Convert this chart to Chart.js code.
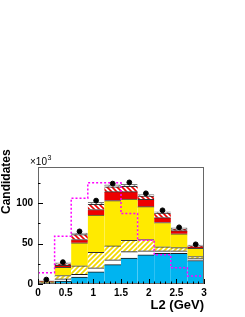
<!DOCTYPE html>
<html>
<head>
<meta charset="utf-8">
<script src="https://cdn.jsdelivr.net/npm/chart.js@4.4.1/dist/chart.umd.min.js"></script>
<style>
  body { margin: 0; background: #fff; }
  #wrap { width: 245px; height: 317px; }
</style>
</head>
<body>
<div id="wrap"><canvas id="c"></canvas></div>
<script>
// bin edges in GeV (10 bins of 0.3)
const binEdges = [0, 0.3, 0.6, 0.9, 1.2, 1.5, 1.8, 2.1, 2.4, 2.7, 3.0]

// stacked components, x10^3 candidates per bin (bottom to top)
const cyanPart    = [0.8, 3.5, 8.5, 15, 24, 32, 36, 38, 38, 29]
const whitePart   = [0.7, 3.0, 3.5, 5, 6, 8, 5, 3, 3, 2.5]
const yHatchPart  = [0.5, 4.0, 10.5, 19, 17, 14, 14, 5, 4, 2.5]
const yellowPart  = [0.8, 10.1, 28.5, 46, 56, 51, 40.5, 30, 17, 10]
const redPart     = [0.3, 2.4, 4, 7, 11, 9, 9, 6, 4, 2]
const rHatchPart  = [0.3, 2.0, 6, 6.5, 6, 6.5, 4, 5.5, 2, 1]
const grayPart    = [0.4, 1.3, 2, 2.5, 2.5, 2.5, 2, 1.5, 1.5, 1]

// data points and dotted magenta histogram
const dataPoints  = [5.5, 27, 65, 103, 124, 125.5, 112, 91, 70, 49]
const magentaHist = [14, 59, 106, 125, 125, 87, 54, 36, 20, 10]

const xTicks = [0, 0.5, 1, 1.5, 2, 2.5, 3]

const centers = binEdges.slice(0, -1).map((e, i) => (e + binEdges[i + 1]) / 2)
const asXY = arr => arr.map((v, i) => ({ x: centers[i], y: v }))

function hatch(bg, fg, dir, lw) {
  const c = document.createElement("canvas")
  c.width = 5; c.height = 5
  const g = c.getContext("2d")
  g.fillStyle = bg
  g.fillRect(0, 0, 5, 5)
  g.strokeStyle = fg
  g.lineWidth = lw
  g.beginPath()
  if (dir > 0) {
    g.moveTo(-1, 6); g.lineTo(6, -1)
    g.moveTo(-1, 1); g.lineTo(1, -1)
    g.moveTo(4, 6); g.lineTo(6, 4)
  } else {
    g.moveTo(-1, -1); g.lineTo(6, 6)
    g.moveTo(-1, 4); g.lineTo(1, 6)
    g.moveTo(4, -1); g.lineTo(6, 1)
  }
  g.stroke()
  return g.createPattern(c, "repeat")
}

function bar(label, data, fill, border) {
  return {
    type: "bar",
    label: label,
    data: asXY(data),
    backgroundColor: fill,
    borderColor: border,
    borderWidth: { top: 1, left: 0, right: 0, bottom: 0 },
    borderSkipped: false,
    stack: "bg",
    order: 2,
    barPercentage: 1,
    categoryPercentage: 1
  }
}

const magentaSteps = binEdges.map((e, i) => ({ x: e, y: magentaHist[Math.min(i, magentaHist.length - 1)] }))

const decor = {
  id: "decor",
  afterDraw(chart) {
    const ctx = chart.ctx
    const a = chart.chartArea
    const xs = chart.scales.x, ys = chart.scales.y
    ctx.save()
    ctx.strokeStyle = "#666"
    ctx.lineWidth = 1
    ctx.strokeRect(a.left + 0.5, a.top + 0.5, a.right - a.left - 1, a.bottom - a.top - 1)
    ctx.strokeStyle = "#000"
    ctx.beginPath()
    for (let k = 0; k <= 30; k++) {
      const px = Math.round(xs.getPixelForValue(k / 10)) + 0.5
      const len = k % 5 === 0 ? 5 : 2.5
      ctx.moveTo(px, a.bottom)
      ctx.lineTo(px, a.bottom - len)
    }
    for (let v = 0; v <= 125; v += 25) {
      const py = Math.round(ys.getPixelForValue(v)) + 0.5
      const len = v % 50 === 0 ? 5 : 2.5
      ctx.moveTo(a.left, py)
      ctx.lineTo(a.left + len, py)
    }
    ctx.stroke()

    ctx.fillStyle = "#000"
    ctx.font = "bold 13px 'Liberation Sans', Arial, sans-serif"
    ctx.textAlign = "right"
    ctx.textBaseline = "middle"
    ctx.fillText("L2 (GeV)", a.right, 305)

    ctx.save()
    ctx.translate(7, 214)
    ctx.rotate(-Math.PI / 2)
    ctx.textAlign = "left"
    ctx.font = "bold 12px 'Liberation Sans', Arial, sans-serif"
    ctx.fillText("Candidates", 0, 0)
    ctx.restore()

    ctx.textAlign = "left"
    ctx.textBaseline = "alphabetic"
    ctx.font = "10px 'Liberation Sans', Arial, sans-serif"
    ctx.fillText("\u00d710", 30, 165)
    const w = ctx.measureText("\u00d710").width
    ctx.font = "7px 'Liberation Sans', Arial, sans-serif"
    ctx.fillText("3", 30 + w + 0.5, 160)
    ctx.restore()
  }
}

new Chart(document.getElementById("c"), {
  data: {
    datasets: [
      {
        type: "scatter",
        label: "Data",
        data: asXY(dataPoints),
        backgroundColor: "#000",
        borderColor: "#000",
        pointRadius: 2.4,
        order: 0
      },
      {
        type: "line",
        label: "Signal",
        data: magentaSteps,
        stepped: "before",
        borderColor: "#ff00ff",
        borderWidth: 1.5,
        borderDash: [2, 2],
        pointRadius: 0,
        fill: false,
        order: 1
      },
      bar("c1", cyanPart, "#00b4f0", "#1a1a1a"),
      bar("c2", whitePart, "#ffffff", "#1a1a1a"),
      bar("c3", yHatchPart, hatch("#ffffff", "#f2d800", 1, 1.8), "#333"),
      bar("c4", yellowPart, "#ffea00", "#444"),
      bar("c5", redPart, "#ee0000", "#333"),
      bar("c6", rHatchPart, hatch("#ffffff", "#ee0000", -1, 1.6), "#333"),
      bar("c7", grayPart, hatch("#ffffff", "#999999", 1, 1.2), "#777")
    ]
  },
  options: {
    responsive: true,
    maintainAspectRatio: false,
    animation: false,
    layout: { padding: { top: 167, right: 41, left: 0, bottom: 0 } },
    plugins: { legend: { display: false }, tooltip: { enabled: false } },
    scales: {
      x: {
        type: "linear",
        min: 0,
        max: 3,
        offset: false,
        stacked: true,
        grid: { display: false, drawTicks: false },
        border: { display: false },
        afterBuildTicks: s => { s.ticks = xTicks.map(v => ({ value: v })) },
        afterFit: s => { s.height = 33 },
        ticks: {
          padding: 3,
          maxRotation: 0,
          autoSkip: false,
          color: "#000",
          font: { family: "'Liberation Sans', Arial, sans-serif", size: 10, weight: "bold" },
          callback: v => String(v)
        }
      },
      y: {
        min: 0,
        max: 144.5,
        stacked: true,
        grid: { display: false, drawTicks: false },
        border: { display: false },
        afterFit: s => { s.width = 38 },
        ticks: {
          stepSize: 50,
          padding: 5,
          color: "#000",
          font: { family: "'Liberation Sans', Arial, sans-serif", size: 10, weight: "bold" },
          callback: v => (v % 50 === 0 ? v : "")
        }
      }
    }
  },
  plugins: [decor]
})
</script>
</body>
</html>
